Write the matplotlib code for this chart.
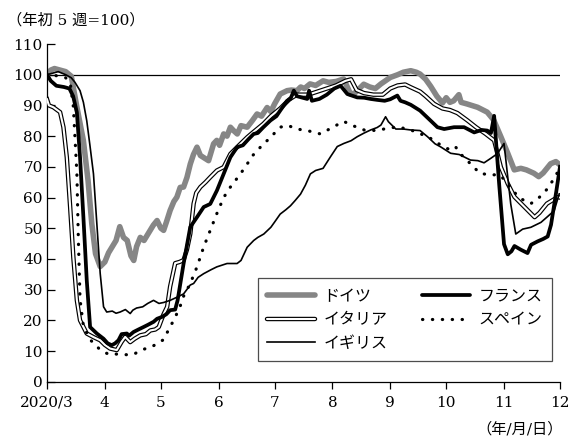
"""Mobility index for five European countries, Mar-Dec 2020 (start of year 5 weeks = 100)."""

import matplotlib
matplotlib.use("Agg")
import matplotlib.pyplot as plt
import numpy as np
import pandas as pd
from matplotlib.legend_handler import HandlerTuple
from matplotlib.lines import Line2D

# days since 2020-03-01, index values
de_days = [0, 2, 4, 7, 10, 13, 16, 19.5, 22, 24, 26, 28.5, 31, 33, 35, 37, 39, 41, 43, 45, 46.5,
           48, 50, 52, 55, 57, 59, 61, 62.5, 64, 66, 68, 69.6, 71.4, 73.2, 75, 76.8, 78.5, 80.4,
           82.2, 84, 86.6, 89.3, 91, 92.5, 94.7, 96.5, 98.3, 100, 102, 104, 107.3, 110, 112.6,
           115, 118, 120, 122, 125, 128.7, 131, 134, 136, 138, 141, 144, 148, 151, 155, 159, 161,
           162.7, 165, 169.8, 173, 176, 179, 184, 188, 191, 195, 198, 200, 203, 205.7, 209, 212,
           214, 216, 218, 220.8, 222, 225, 230.8, 236, 239.5, 243.3, 247, 250.5, 254, 257, 261,
           263.6, 266, 268, 270, 272.8, 275]
de_vals = [100, 101.5, 102, 101.5, 101, 99.5, 89.5, 78.5, 65.5, 51.5, 41.7, 37.5, 39, 42, 44, 46,
           50.5, 47, 46, 41, 39.5, 44, 47, 46, 49, 51, 52.5, 50, 49.3, 52, 55.8, 58.7, 60.1, 63.3,
           63.4, 66.5, 70.9, 74, 76.4, 73.7, 73, 72, 77.5, 78.6, 77, 80.7, 80, 82.9, 81.8, 80.7,
           83.4, 82.9, 85, 87.2, 86.5, 89.3, 88, 90.5, 93.7, 94.8, 95, 94.8, 96, 95.5, 97, 96.5,
           98, 97.5, 97.8, 98.6, 96, 93.7, 94, 96.9, 96, 95.5, 97, 99.1, 100, 100.8, 101.3,
           100.8, 100.2, 98.5, 96.2, 93, 90.8, 92.5, 91, 91.5, 93.5, 91, 90.5, 89.4, 87.8, 85.2,
           79.8, 74.4, 69, 69.5, 69, 67.9, 66.8, 68, 69.5, 71, 71.7, 70.6]

it_days = [0, 1, 3.4, 7, 8.8, 10.6, 12.4, 14.1, 16, 17.7, 21.3, 25, 28.5, 31, 33.8, 37.4, 40,
           41.9, 44.6, 47, 50, 53, 55.4, 58, 59.9, 62.5, 64.4, 66, 68.7, 71, 73.2, 75, 76.8, 78.6,
           80, 82.2, 85, 87.5, 91.1, 94.7, 98.3, 101.9, 107.3, 110, 116, 120, 125, 130, 134, 140,
           145, 150, 155, 160, 163, 166, 170, 175, 180, 184, 188, 192, 195, 200, 203, 207.5, 212,
           216, 220, 225.4, 230, 235, 239.7, 243.3, 247, 250.6, 256, 261.4, 264, 268, 273.7, 275]
it_vals = [92, 90, 89.4, 87.8, 82.9, 73.1, 56.9, 40.6, 26.5, 20, 15.7, 14.5, 13.5, 12, 10.8, 10.3,
           13, 14.6, 12.9, 14, 15.1, 15.5, 16.7, 17, 17.8, 22, 24.4, 31, 38.6, 39, 39.6, 43, 48.2,
           58, 61.5, 63.4, 65, 66.6, 68.8, 69.9, 74.2, 76.4, 79.6, 81, 84, 86.5, 89, 92, 93.5,
           93.5, 94.5, 95.5, 96.5, 98, 98.5, 95, 94, 93.5, 93.5, 95.5, 96.5, 96.8, 95.9, 94.5,
           93, 90.5, 89, 88.5, 87.5, 85.1, 82.9, 80.8, 78.6, 69.9, 64.5, 60.2, 56.9, 53.6, 55,
           58, 60.1, 60]

uk_days = [0, 3, 6, 10, 13, 15, 17.7, 19.5, 21.3, 23, 24.9, 26.7, 28.5, 30.3, 32, 35, 37, 39.2,
           42, 44.6, 46, 48, 51.3, 54, 57.1, 60, 62.5, 66, 69.6, 73.2, 76.8, 78.6, 81, 84, 88, 91,
           96.5, 101.9, 104, 107.3, 110.8, 113, 116.2, 120, 122, 125, 128, 130.5, 133, 135.9,
           138.5, 141.2, 144, 148, 152, 155.6, 159.1, 163, 166.3, 170, 173.5, 177, 179, 181.5,
           183, 185, 187, 191, 195, 200, 204, 208, 211, 216.4, 221, 227, 231, 234.3, 238, 241.5,
           245, 248.6, 251.3, 255, 259.4, 264.8, 268, 271.9, 274.6]
uk_vals = [100, 100.5, 101, 100, 99, 97.5, 94.8, 91, 85, 77, 67.7, 51.5, 35.3, 24.4, 22.7, 23,
           22.3, 22.7, 23.5, 22.2, 23.3, 24, 24.4, 25.5, 26.5, 25.5, 25.8, 26.5, 27.5, 28.6, 31.5,
           32, 34, 35.2, 36.5, 37.4, 38.5, 38.5, 39.5, 43.8, 46, 47, 48.1, 50.3, 52, 54.6, 56,
           57.3, 59, 61.1, 64, 67.7, 68.8, 69.5, 73.3, 76.6, 77.6, 78.5, 79.8, 81, 82, 82.8, 83.6,
           86.3, 84.7, 83.5, 82.3, 82.3, 82, 81.8, 79.8, 77.5, 76.5, 74.4, 74, 72.2, 72, 71.3,
           72.8, 74.3, 77.6, 57.9, 48.1, 49.7, 50.3, 51.9, 53.6, 55.7, 61.2]

fr_days = [0, 2, 5, 9, 12, 14, 16, 17.7, 19.5, 21.3, 23.1, 26.7, 30.3, 32.5, 34.7, 36.5, 38.3, 40,
           42.8, 44, 46.4, 49, 51.7, 54, 57.1, 59, 61.6, 64, 66, 68.7, 70, 73.2, 76.8, 80.4, 84,
           87.5, 91.1, 94.7, 98.3, 101.9, 105, 108, 110.8, 113, 116, 119.8, 123, 125, 128.7,
           130.5, 132.3, 134, 137, 139.5, 140.5, 142, 146, 150, 154, 157.4, 161, 166.3, 170,
           173.5, 177, 181, 184, 187.8, 189.5, 192, 195, 200, 205.7, 209.3, 212.9, 218.2, 223.6,
           229, 233, 236, 238, 239.7, 242.4, 245, 247, 249, 250.6, 254, 257.6, 259.5, 263, 266,
           268.4, 270.2, 273, 275]
fr_vals = [100, 98, 96.4, 96, 95.5, 93, 87.7, 73.1, 53.6, 33, 17.8, 15.7, 14, 12.5, 11.9, 12.5,
           13.5, 15.5, 15.7, 15, 16.2, 17, 17.8, 18.5, 19.5, 20.5, 21.1, 22, 23.3, 23.5, 26.5,
           38.4, 50.4, 53.6, 56.9, 57.9, 62.3, 67.7, 73.1, 76.4, 77, 79, 80.7, 81, 82.9, 85.1,
           86.5, 88.3, 91.5, 92.1, 94.8, 93, 92.5, 92.1, 94.8, 91.5, 92.1, 93.5, 95.5, 96.4, 93.7,
           92.6, 92.5, 92.1, 91.8, 91.5, 92, 93.2, 91.5, 91, 90.2, 88.3, 85, 82.9, 82.3, 82.9,
           82.9, 81.2, 82, 81.8, 81, 86.6, 64.3, 44.8, 41.5, 42.5, 44.2, 43, 41.9, 44.6, 45.7,
           46.5, 47.3, 51.1, 61.9, 70]

es_days = [0, 3, 6, 10, 12.5, 14.1, 16, 16.8, 17.7, 19.5, 23.1, 28.5, 31, 33.8, 37, 41, 46, 51,
           56.5, 62.5, 64, 66, 68, 69.6, 71.4, 73, 76.8, 80.4, 84, 87.5, 91, 94.7, 98.3, 103.7,
           107.3, 110, 114.4, 119.8, 125, 129, 134, 139.5, 146.6, 152, 159, 164, 170, 177, 182,
           188, 195, 200, 205, 210, 216, 219, 222, 227, 232, 237.9, 242, 245, 247, 250, 254,
           259.4, 264, 269, 273, 275]
es_vals = [99, 100, 99.5, 99, 97, 89.6, 67.9, 46.3, 26.8, 18.1, 13.7, 10.4, 9.5, 8.8, 9, 8.8,
           8.8, 10.4, 11.5, 13.7, 15.5, 18, 20, 22.2, 24.6, 27.6, 32, 37.4, 43.9, 49.3, 54.7, 60,
           63.4, 67.7, 70.9, 73.5, 76.4, 79.6, 82.9, 83.5, 82.3, 81.8, 80.7, 82.5, 84.8, 83.4, 82,
           81.8, 82.5, 83, 82, 80.8, 79.5, 77.5, 75.5, 76.5, 74, 71, 67.9, 67.3, 67.5, 66, 64.4,
           62, 59.6, 58, 60.1, 63.3, 67.6, 69]

labels = ["ドイツ", "イタリア", "イギリス", "フランス", "スペイン"]
month_labels = ["2020/3", "4", "5", "6", "7", "8", "9", "10", "11", "12"]

start = pd.Timestamp("2020-03-01")
month_ticks = (pd.date_range("2020-03-01", "2020-12-01", freq="MS") - start).days

plt.rcParams.update({
    "font.family": ["DejaVu Serif", "Noto Sans CJK JP"],
    "font.size": 11,
    "axes.spines.top": False,
    "axes.spines.right": False,
})

fig = plt.figure(figsize=(5.77, 4.44), dpi=100)
ax = fig.add_axes([0.0815, 0.1403, 0.889, 0.7606])

ax.axhline(100, color="black", lw=0.9, zorder=1)

gray = "#868686"
dots = (0, (0.1, 3.0))
ax.plot(de_days, de_vals, color=gray, lw=4.0, zorder=2, solid_joinstyle="round")
ax.plot(it_days, it_vals, color="black", lw=3.2, zorder=3, solid_joinstyle="round")
ax.plot(it_days, it_vals, color="white", lw=1.5, zorder=3.1, solid_joinstyle="round")
ax.plot(es_days, es_vals, color="black", lw=2.3, zorder=4, linestyle=dots,
        dash_capstyle="round")
ax.plot(uk_days, uk_vals, color="black", lw=1.2, zorder=5)
ax.plot(fr_days, fr_vals, color="black", lw=2.7, zorder=6, solid_joinstyle="round")

ax.set_xlim(0, month_ticks[-1])
ax.set_ylim(0, 110)
ax.set_xticks(month_ticks)
ax.set_xticklabels(month_labels)
ax.set_yticks(np.arange(0, 111, 10))
ax.tick_params(axis="y", direction="in", length=5.5, width=0.9, pad=3)
ax.tick_params(axis="x", direction="out", length=5, width=0.9, pad=5)
for s in ("left", "bottom"):
    ax.spines[s].set_linewidth(0.9)

handles = [
    Line2D([], [], color=gray, lw=4.0, solid_capstyle="round"),
    (Line2D([], [], color="black", lw=3.2, solid_capstyle="round"),
     Line2D([], [], color="white", lw=1.5, solid_capstyle="round")),
    Line2D([], [], color="black", lw=1.2),
    Line2D([], [], color="black", lw=2.7, solid_capstyle="round"),
    Line2D([], [], color="black", lw=2.3, linestyle=dots, dash_capstyle="round"),
]
leg = ax.legend(handles, labels, ncol=2, loc="lower right", bbox_to_anchor=(0.984, 0.061),
                borderaxespad=0, handler_map={tuple: HandlerTuple(ndivide=1)},
                fontsize=11.5, handlelength=3.0, handletextpad=0.5, columnspacing=2.2,
                labelspacing=0.4, borderpad=0.6, fancybox=False, framealpha=1,
                edgecolor="0.3")
leg.get_frame().set_linewidth(0.9)

fig.text(0.012, 1 - 20 / 444, "（年初 5 週=100）", fontsize=11, va="center", ha="left")
fig.text(563 / 577, 1 - 429 / 444, "（年/月/日）", fontsize=11, va="center", ha="right")

fig.savefig("out.png", dpi=100)
